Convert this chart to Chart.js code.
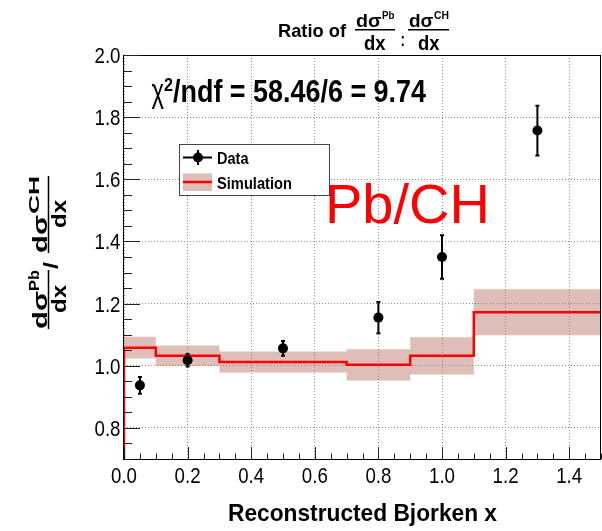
<!DOCTYPE html>
<html>
<head>
<meta charset="utf-8">
<script src="https://cdn.jsdelivr.net/npm/chart.js@4.4.1/dist/chart.umd.min.js"></script>
<style>
  html, body { margin: 0; padding: 0; background: #fff; }
  #wrap { width: 602px; height: 531px; }
</style>
</head>
<body>
<div id="wrap"><canvas id="c" width="602" height="531"></canvas></div>
<script>
// measured Pb/CH ratio (data)
const dataX = [0.05, 0.2, 0.5, 0.8, 1.0, 1.3];
const dataY = [0.937, 1.018, 1.056, 1.155, 1.350, 1.757];
const dataErr = [0.027, 0.02, 0.024, 0.05, 0.07, 0.08];

// simulation histogram, bin edges + content + error
const simEdges = [0, 0.1, 0.3, 0.7, 0.9, 1.1, 1.5];
const simY = [1.058, 1.032, 1.012, 1.003, 1.032, 1.172];
const simErr = [0.035, 0.033, 0.034, 0.05, 0.06, 0.074];

const xTicks = [0, 0.2, 0.4, 0.6, 0.8, 1.0, 1.2, 1.4];
const yTicks = [0.8, 1.0, 1.2, 1.4, 1.6, 1.8, 2.0];
const X_MIN = 0, X_MAX = 1.5, Y_MIN = 0.7, Y_MAX = 2.0;

const BAND = "rgba(185, 110, 100, 0.45)";
const GRID = "rgba(130, 130, 130, 0.9)";
const SANS = "'Liberation Sans', Arial, sans-serif";

// histogram -> step points (value held until next edge)
function steps(vals) {
  const pts = vals.map((v, i) => ({ x: simEdges[i], y: v }));
  pts.push({ x: simEdges[simEdges.length - 1], y: vals[vals.length - 1] });
  return pts;
}

// text squeezed to a given width (the original plot is horizontally condensed)
function txt(ctx, s, x, y, font, w, color) {
  ctx.save();
  ctx.font = font;
  ctx.fillStyle = color || "#000";
  ctx.textBaseline = "alphabetic";
  ctx.textAlign = "left";
  const m = ctx.measureText(s).width;
  ctx.translate(x, y);
  if (w) ctx.scale(w / m, 1);
  ctx.fillText(s, 0, 0);
  ctx.restore();
}

// tick label with a fixed squeeze factor
function lbl(ctx, s, x, y, align) {
  ctx.save();
  ctx.font = "22px " + SANS;
  ctx.fillStyle = "#000";
  ctx.textBaseline = "alphabetic";
  ctx.textAlign = align;
  ctx.translate(x, y);
  ctx.scale(0.85, 1);
  ctx.fillText(s, 0, 0);
  ctx.restore();
}

const rootStyle = {
  id: "rootStyle",
  beforeDatasetDraw(chart, args) {
    if (args.index !== 0) return;
    // vertical error bars under the markers
    const { ctx, scales: { x, y } } = chart;
    ctx.save();
    ctx.strokeStyle = "#000";
    ctx.lineWidth = 2;
    dataX.forEach((xv, i) => {
      const px = x.getPixelForValue(xv);
      const top = y.getPixelForValue(dataY[i] + dataErr[i]);
      const bot = y.getPixelForValue(dataY[i] - dataErr[i]);
      ctx.beginPath();
      ctx.moveTo(px, top); ctx.lineTo(px, bot);
      ctx.moveTo(px - 2, top); ctx.lineTo(px + 2, top);
      ctx.moveTo(px - 2, bot); ctx.lineTo(px + 2, bot);
      ctx.stroke();
    });
    ctx.restore();
  },
  afterDraw(chart) {
    const { ctx, chartArea: a, scales: { x, y } } = chart;
    ctx.save();

    // frame
    ctx.strokeStyle = "#000";
    ctx.lineWidth = 1;
    ctx.strokeRect(Math.round(a.left) - 0.5, Math.round(a.top) + 0.5, Math.round(a.right - a.left), Math.round(a.bottom - a.top));

    // tick marks, inside the frame
    ctx.strokeStyle = "#222";
    ctx.beginPath();
    for (let k = 0; k <= Math.round((Y_MAX - Y_MIN) / 0.05); k++) {
      const v = Y_MIN + k * 0.05;
      const major = Math.abs(v * 5 - Math.round(v * 5)) < 1e-6;
      const py = Math.round(y.getPixelForValue(v)) + 0.5;
      ctx.moveTo(a.left, py);
      ctx.lineTo(a.left + (major ? 16 : 8), py);
    }
    for (let k = 0; k <= Math.round((X_MAX - X_MIN) / 0.05); k++) {
      const v = X_MIN + k * 0.05;
      const major = Math.abs(v * 5 - Math.round(v * 5)) < 1e-6;
      const px = Math.round(x.getPixelForValue(v)) + 0.5;
      ctx.moveTo(px, a.bottom);
      ctx.lineTo(px, a.bottom - (major ? 12 : 5.5));
    }
    ctx.stroke();

    // tick labels
    yTicks.forEach((v) => lbl(ctx, v.toFixed(1), a.left - 3.5, y.getPixelForValue(v) + 8, "right"));
    xTicks.forEach((v) => lbl(ctx, v.toFixed(1), x.getPixelForValue(v), a.bottom + 24, "center"));

    // title: Ratio of dσPb/dx : dσCH/dx
    txt(ctx, "Ratio of", 278, 37, "bold 19px " + SANS, 68);
    txt(ctx, "dσ", 356, 27, "bold 19px " + SANS, 25.5);
    txt(ctx, "Pb", 382, 19, "bold 11px " + SANS, 12.5);
    ctx.fillRect(355, 29, 40, 1.5);
    txt(ctx, "dx", 364, 50, "bold 20px " + SANS, 21.5);
    txt(ctx, ":", 400.5, 46, "bold 19px " + SANS, 4.5);
    txt(ctx, "dσ", 409, 27, "bold 19px " + SANS, 24.5);
    txt(ctx, "CH", 434, 19, "bold 11px " + SANS, 15);
    ctx.fillRect(408, 29, 41, 1.5);
    txt(ctx, "dx", 418, 50, "bold 20px " + SANS, 21.5);

    // y title, rotated
    ctx.save();
    ctx.translate(48.5, 256);
    ctx.rotate(-Math.PI / 2);
    txt(ctx, "dσ", -73, -2, "bold 21px " + SANS, 38);
    txt(ctx, "Pb", -35, -10, "bold 14px " + SANS, 21);
    ctx.fillRect(-73, -0.75, 59, 1.5);
    txt(ctx, "dx", -57, 17, "bold 21px " + SANS, 28);
    txt(ctx, "/", -13, 9, "bold 20px " + SANS, 7);
    txt(ctx, "dσ", 3, -2, "bold 21px " + SANS, 38);
    txt(ctx, "CH", 42, -10, "bold 14px " + SANS, 38);
    ctx.fillRect(3, -0.75, 77, 1.5);
    txt(ctx, "dx", 28, 17, "bold 21px " + SANS, 28);
    ctx.restore();

    // x title
    txt(ctx, "Reconstructed Bjorken x", 228, 521, "bold 24px " + SANS, 269);

    // chi2 text
    txt(ctx, "χ", 151.5, 101.5, "34px " + SANS, 12.5);
    txt(ctx, "2", 164, 91, "bold 19px " + SANS, 9);
    txt(ctx, "/ndf = 58.46/6 = 9.74", 173, 101.5, "bold 32px " + SANS, 253);

    // Pb/CH label
    txt(ctx, "Pb/CH", 325, 222.5, "56px " + SANS, 165, "#ff0000");

    // legend
    ctx.fillStyle = "#fff";
    ctx.fillRect(179.5, 144.5, 150, 51);
    ctx.strokeStyle = "#444";
    ctx.lineWidth = 1;
    ctx.strokeRect(179.5, 144.5, 150, 51);
    ctx.strokeStyle = "#000";
    ctx.lineWidth = 2;
    ctx.beginPath();
    ctx.moveTo(183, 157.5); ctx.lineTo(212, 157.5);
    ctx.moveTo(198, 150); ctx.lineTo(198, 165);
    ctx.stroke();
    ctx.fillStyle = "#000";
    ctx.beginPath();
    ctx.arc(198, 157.5, 5, 0, Math.PI * 2);
    ctx.fill();
    ctx.fillStyle = BAND;
    ctx.fillRect(183, 173.5, 29, 17.5);
    ctx.strokeStyle = "#ff0000";
    ctx.lineWidth = 2.5;
    ctx.beginPath();
    ctx.moveTo(183, 182); ctx.lineTo(212, 182);
    ctx.stroke();
    txt(ctx, "Data", 217, 164, "bold 17px " + SANS, 31.5);
    txt(ctx, "Simulation", 217, 188.5, "bold 17px " + SANS, 75);

    ctx.restore();
  }
};

const ctx = document.getElementById("c");
new Chart(ctx, {
  type: "scatter",
  data: {
    datasets: [
      {
        label: "Data",
        data: dataX.map((x, i) => ({ x: x, y: dataY[i] })),
        pointRadius: 5,
        pointBackgroundColor: "#000",
        pointBorderColor: "#000",
        pointBorderWidth: 0,
        order: 0,
      },
      {
        type: "line",
        label: "Simulation",
        data: [{ x: simEdges[0], y: Y_MIN }].concat(steps(simY)),
        stepped: true,
        borderColor: "#ff0000",
        borderWidth: 2.5,
        pointRadius: 0,
        fill: false,
        order: 1,
      },
      {
        type: "line",
        label: "sim up",
        data: steps(simY.map((v, i) => v + simErr[i])),
        stepped: true,
        borderColor: "rgba(0,0,0,0)",
        borderWidth: 1,
        pointRadius: 0,
        backgroundColor: BAND,
        fill: "+1",
        order: 2,
      },
      {
        type: "line",
        label: "sim down",
        data: steps(simY.map((v, i) => v - simErr[i])),
        stepped: true,
        borderColor: "rgba(0,0,0,0)",
        borderWidth: 1,
        pointRadius: 0,
        fill: false,
        order: 3,
      },
    ],
  },
  options: {
    responsive: false,
    animation: false,
    layout: { autoPadding: false, padding: { top: 55, right: 1, bottom: 0, left: 0 } },
    plugins: { legend: { display: false }, tooltip: { enabled: false } },
    scales: {
      x: {
        type: "linear",
        min: X_MIN,
        max: X_MAX,
        afterBuildTicks: (s) => { s.ticks = xTicks.map((v) => ({ value: v })); },
        afterFit: (s) => { s.height = 72; s.paddingLeft = 0; s.paddingRight = 0; },
        grid: { color: GRID, drawTicks: false, lineWidth: 1 },
        border: { display: false, dash: [1, 2] },
        ticks: { display: false },
      },
      y: {
        type: "linear",
        min: Y_MIN,
        max: Y_MAX,
        afterBuildTicks: (s) => { s.ticks = yTicks.map((v) => ({ value: v })); },
        afterFit: (s) => { s.width = 124; s.paddingTop = 0; s.paddingBottom = 0; },
        grid: { color: GRID, drawTicks: false, lineWidth: 1 },
        border: { display: false, dash: [1, 2] },
        ticks: { display: false },
      },
    },
  },
  plugins: [rootStyle],
});
</script>
</body>
</html>
